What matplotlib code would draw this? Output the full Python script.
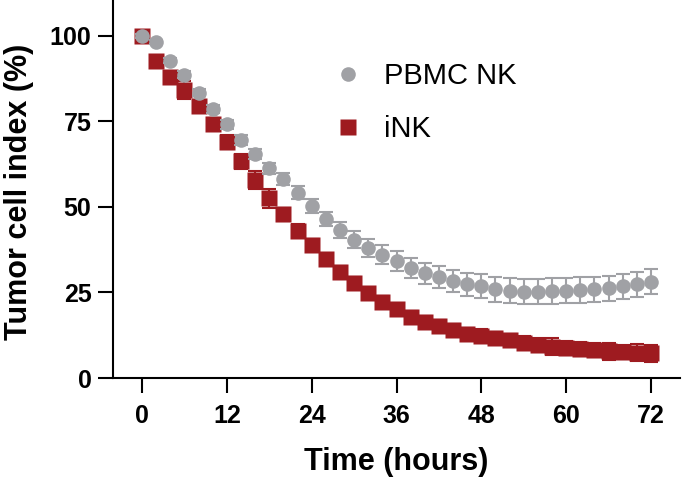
import matplotlib
matplotlib.use('Agg')
import matplotlib.pyplot as plt

# time points (hours)
time_h = [0, 2, 4, 6, 8, 10, 12, 14, 16, 18, 20, 22, 24, 26, 28, 30, 32, 34, 36,
          38, 40, 42, 44, 46, 48, 50, 52, 54, 56, 58, 60, 62, 64, 66, 68, 70, 72]

# tumor cell index (%), mean and SEM
pbmc_nk = [100.0, 98.3, 92.8, 88.6, 83.4, 78.6, 74.2, 69.6, 65.4, 61.3, 58.1, 54.2,
           50.3, 46.4, 43.3, 40.4, 38.1, 36.0, 34.2, 32.1, 30.6, 29.6, 28.4, 27.4,
           26.8, 25.9, 25.5, 25.2, 25.2, 25.4, 25.5, 25.7, 25.9, 26.2, 26.8, 27.4, 28.2]
pbmc_nk_err = [0.5, 0.6, 0.8, 1.0, 1.1, 1.2, 1.3, 1.4, 1.5, 1.6, 1.7, 1.8, 2.0, 2.1,
               2.3, 2.5, 2.6, 2.8, 2.9, 3.0, 3.1, 3.2, 3.3, 3.4, 3.5, 3.6, 3.6, 3.7,
               3.7, 3.7, 3.7, 3.7, 3.7, 3.7, 3.7, 3.7, 3.7]

ink = [100.0, 92.7, 88.1, 84.2, 79.5, 74.3, 68.9, 63.3, 57.9, 52.5, 47.8, 43.1, 38.9,
       34.7, 31.1, 27.9, 24.8, 22.3, 20.1, 17.9, 16.5, 15.2, 14.0, 13.0, 12.4, 11.6,
       11.0, 10.3, 9.6, 9.2, 8.8, 8.5, 8.1, 7.8, 7.6, 7.4, 7.2]
ink_err = [0.5, 1.2, 1.6, 2.5, 1.8, 1.8, 2.0, 2.2, 2.6, 2.7, 1.8, 1.8, 1.6, 1.5, 1.5,
           1.5, 1.5, 1.6, 1.6, 1.6, 1.6, 1.7, 1.7, 1.7, 1.8, 1.8, 1.9, 1.9, 2.0, 2.4,
           2.0, 2.0, 2.0, 2.4, 2.1, 2.4, 2.5]

x_ticks = [0, 12, 24, 36, 48, 60, 72]
y_ticks = [0, 25, 50, 75, 100]

GREY = '#A0A1A5'
RED = '#9E1B20'

plt.rcParams['font.family'] = ['Liberation Sans', 'DejaVu Sans']

fig = plt.figure(figsize=(6.82, 4.80), dpi=100)
ax = fig.add_axes([113 / 682, 102 / 480, 567 / 682, 378 / 480])

eb_ink = ax.errorbar(time_h, ink, yerr=ink_err, fmt='s', color=RED, ms=11, mec='none',
                     ecolor=RED, elinewidth=1.5, capsize=5, capthick=1.5, zorder=2)
eb_pbmc = ax.errorbar(time_h, pbmc_nk, yerr=pbmc_nk_err, fmt='o', color=GREY, ms=10.5,
                      mec='none', ecolor=GREY, elinewidth=1.5, capsize=5, capthick=1.5,
                      zorder=3)

ax.set_xlim(-4.1, 76.1)
ax.set_ylim(0, 110.5)
ax.set_xticks(x_ticks)
ax.set_yticks(y_ticks)
for side in ['top', 'right']:
    ax.spines[side].set_visible(False)
for side in ['left', 'bottom']:
    ax.spines[side].set_linewidth(1.5)
ax.tick_params(length=10.5, width=1.5, labelsize=18)
ax.tick_params(axis='x', pad=8)
ax.tick_params(axis='y', pad=5)
for lbl in ax.get_xticklabels() + ax.get_yticklabels():
    lbl.set_fontweight('bold')

fig.text(0.028, 0.60, 'Tumor cell index (%)', rotation=90, ha='center', va='center',
         fontsize=22, fontweight='bold')
fig.text(0.581, 0.021, 'Time (hours)', ha='center', va='baseline',
         fontsize=22, fontweight='bold')

ax.legend([eb_pbmc[0], eb_ink[0]], ['PBMC NK', 'iNK'], loc='upper left',
          bbox_to_anchor=((333 - 113) / 567, 1 - 62 / 378), frameon=False,
          fontsize=21, handletextpad=0.75, labelspacing=0.85, handlelength=1.0,
          borderaxespad=0, borderpad=0)

fig.savefig('out.png', dpi=100)
